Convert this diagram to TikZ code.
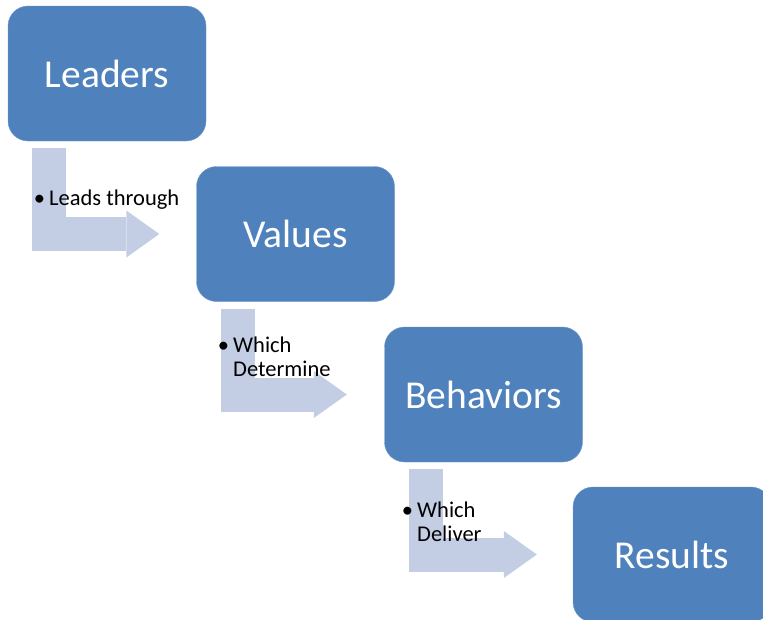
\documentclass[tikz,border=0pt]{standalone}
\usepackage{fontspec}
\setmainfont{Carlito}
\usetikzlibrary{arrows.meta}
\definecolor{boxblue}{RGB}{79,129,189}
\definecolor{arrowblue}{RGB}{195,205,228}
\tikzset{
  box/.style={rectangle, rounded corners=20pt, fill=boxblue, draw=boxblue!80!white,
    text=white, minimum width=198pt, minimum height=135pt, font=\fontsize{39.5}{42}\selectfont},
  bentarrow/.style={draw=arrowblue, line width=34pt, line join=miter,
    -{Triangle[length=33pt,width=47pt,line width=0pt]}},
  note/.style={inner sep=0pt, align=left, anchor=north west, font=\fontsize{22.5}{24}\selectfont}
}
\begin{document}
\begin{tikzpicture}[x=1pt,y=-1pt]
 \useasboundingbox (0,0) rectangle (763,619);
 \clip (0,0) rectangle (763,619);

 \node (L) [box] at (107,73.5) {Leaders};
 \node (V) [box] at (295.5,234) {Values};
 \node (B) [box] at (483.5,394.5) {Behaviors};
 \node (R) [box] at (672,554.5) {Results};

 % bent arrows between the boxes
 \draw [bentarrow] ([xshift=-58pt,yshift=-7pt]L.south) |- ([xshift=-37pt]V.west);
 \draw [bentarrow] ([xshift=-57.5pt,yshift=-7pt]V.south) |- ([xshift=-37.5pt]B.west);
 \draw [bentarrow] ([xshift=-58pt,yshift=-7pt]B.south) |- ([xshift=-36pt]R.west);

 \node (T1) [note] at (49,190) {\llap{\textbullet\hspace{4pt}}Leads through};
 \node (T2) [note] at (233,337) {\llap{\textbullet\hspace{4pt}}Which\\Determine};
 \node (T3) [note] at (417,502) {\llap{\textbullet\hspace{4pt}}Which\\Deliver};
\end{tikzpicture}
\end{document}
